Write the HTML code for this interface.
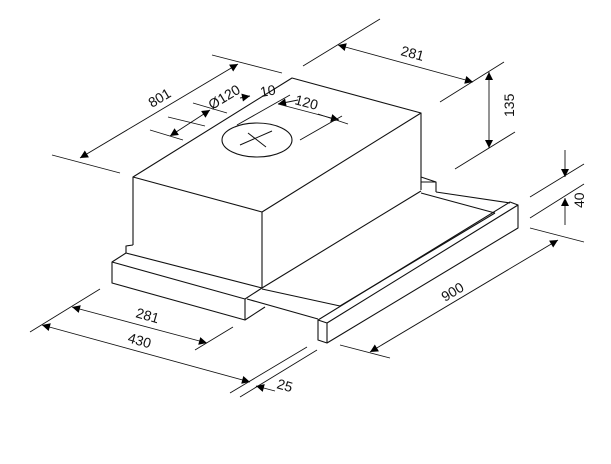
<!DOCTYPE html>
<html><head><meta charset="utf-8"><style>
html,body{margin:0;padding:0;background:#fff;}
svg{display:block}
text{font-family:"Liberation Sans",sans-serif;font-size:14px;fill:#111;}
</style></head><body>
<svg width="611" height="464" viewBox="0 0 611 464" xmlns="http://www.w3.org/2000/svg">
<defs>
<marker id="a" viewBox="0 0 10 10" refX="10" refY="5" markerWidth="12" markerHeight="8" orient="auto-start-reverse" markerUnits="userSpaceOnUse">
<path d="M0,0 L10,5 L0,10 z" fill="#000"/></marker>
</defs>
<g stroke="#111" stroke-width="1.1" fill="none" stroke-linejoin="round">
<path d="M133,177 L292,78 L421,113 L262,212 Z"/>
<path d="M133,177 L133,245 M262,212 L262,288 M421,113 L421,190"/>
<path d="M133,245 L126,246 L126,253"/>
<path d="M126,253 L262,288 M112,262 L126,253 M112,262 L245,299 L245,320 L112,283 Z M245,299 L262,288 M245,320 L265,307"/>
<path d="M421,177 L436,182 L436,192 M421,182 L436,182"/>
<path d="M262,288 L421,191 M436,192 L510,203 M421,193 L495,213 M262,289 L340,306 M247,299 L318,319 M340,306 L495,213"/>
<path d="M318,320 L510,202 L518,205 L327,323 Z M327,323 L327,343 L318,340 L318,320 M327,343 L518,228 L518,205"/>
<ellipse cx="257" cy="140" rx="35" ry="17"/>
<path d="M240,145 L272,131 M248,133 L266,147" stroke-width="1"/>
</g>
<g stroke="#111" stroke-width="0.9" fill="none">
<path d="M52,155 L120,173 M212,55 L282,73"/>
<path d="M80,158 L238,64" marker-start="url(#a)" marker-end="url(#a)"/>
<path d="M150,130 L183,140 M168,117 L205,126 M193,103 L227,113"/>
<path d="M170,136 L210,110" marker-start="url(#a)" marker-end="url(#a)"/>
<path d="M240,98 L250,96" marker-end="url(#a)"/>
<path d="M237,125 L290,95"/>
<path d="M298,100 L278,104" marker-end="url(#a)"/>
<path d="M278,104 L339,120" marker-end="url(#a)"/>
<path d="M300,140 L342,116 M318,114 L348,124"/>
<path d="M303,66 L380,19 M440,102 L504,62"/>
<path d="M338,45 L473,82" marker-start="url(#a)" marker-end="url(#a)"/>
<path d="M455,169 L515,132"/>
<path d="M489,72 L489,148" marker-start="url(#a)" marker-end="url(#a)"/>
<path d="M530,197 L584,164 M530,218 L584,184"/>
<path d="M565,150 L565,177" marker-end="url(#a)"/>
<path d="M565,225 L565,198" marker-end="url(#a)"/>
<path d="M340,345 L390,358 M530,228 L584,242"/>
<path d="M370,352 L558,240" marker-start="url(#a)" marker-end="url(#a)"/>
<path d="M30,332 L100,289 M195,350 L233,327"/>
<path d="M72,307 L207,343" marker-start="url(#a)" marker-end="url(#a)"/>
<path d="M42,325 L250,382" marker-start="url(#a)" marker-end="url(#a)"/>
<path d="M230,393 L307,347 M240,397 L317,350"/>
<path d="M275,391 L256,386" marker-end="url(#a)"/>
</g>
<text transform="translate(152,108) rotate(-31)">801</text>
<text transform="translate(212,110) rotate(-31)">Ø120</text>
<text transform="translate(261,97) rotate(-10)">10</text>
<text transform="translate(294,104) rotate(15)">120</text>
<text transform="translate(400,55) rotate(15)">281</text>
<text transform="translate(514,117) rotate(-90)">135</text>
<text transform="translate(584,208) rotate(-90)">40</text>
<text transform="translate(445,302) rotate(-31)">900</text>
<text transform="translate(135,317) rotate(16)">281</text>
<text transform="translate(127,342) rotate(16)">430</text>
<text transform="translate(276,388) rotate(16)">25</text>
</svg>
</body></html>
